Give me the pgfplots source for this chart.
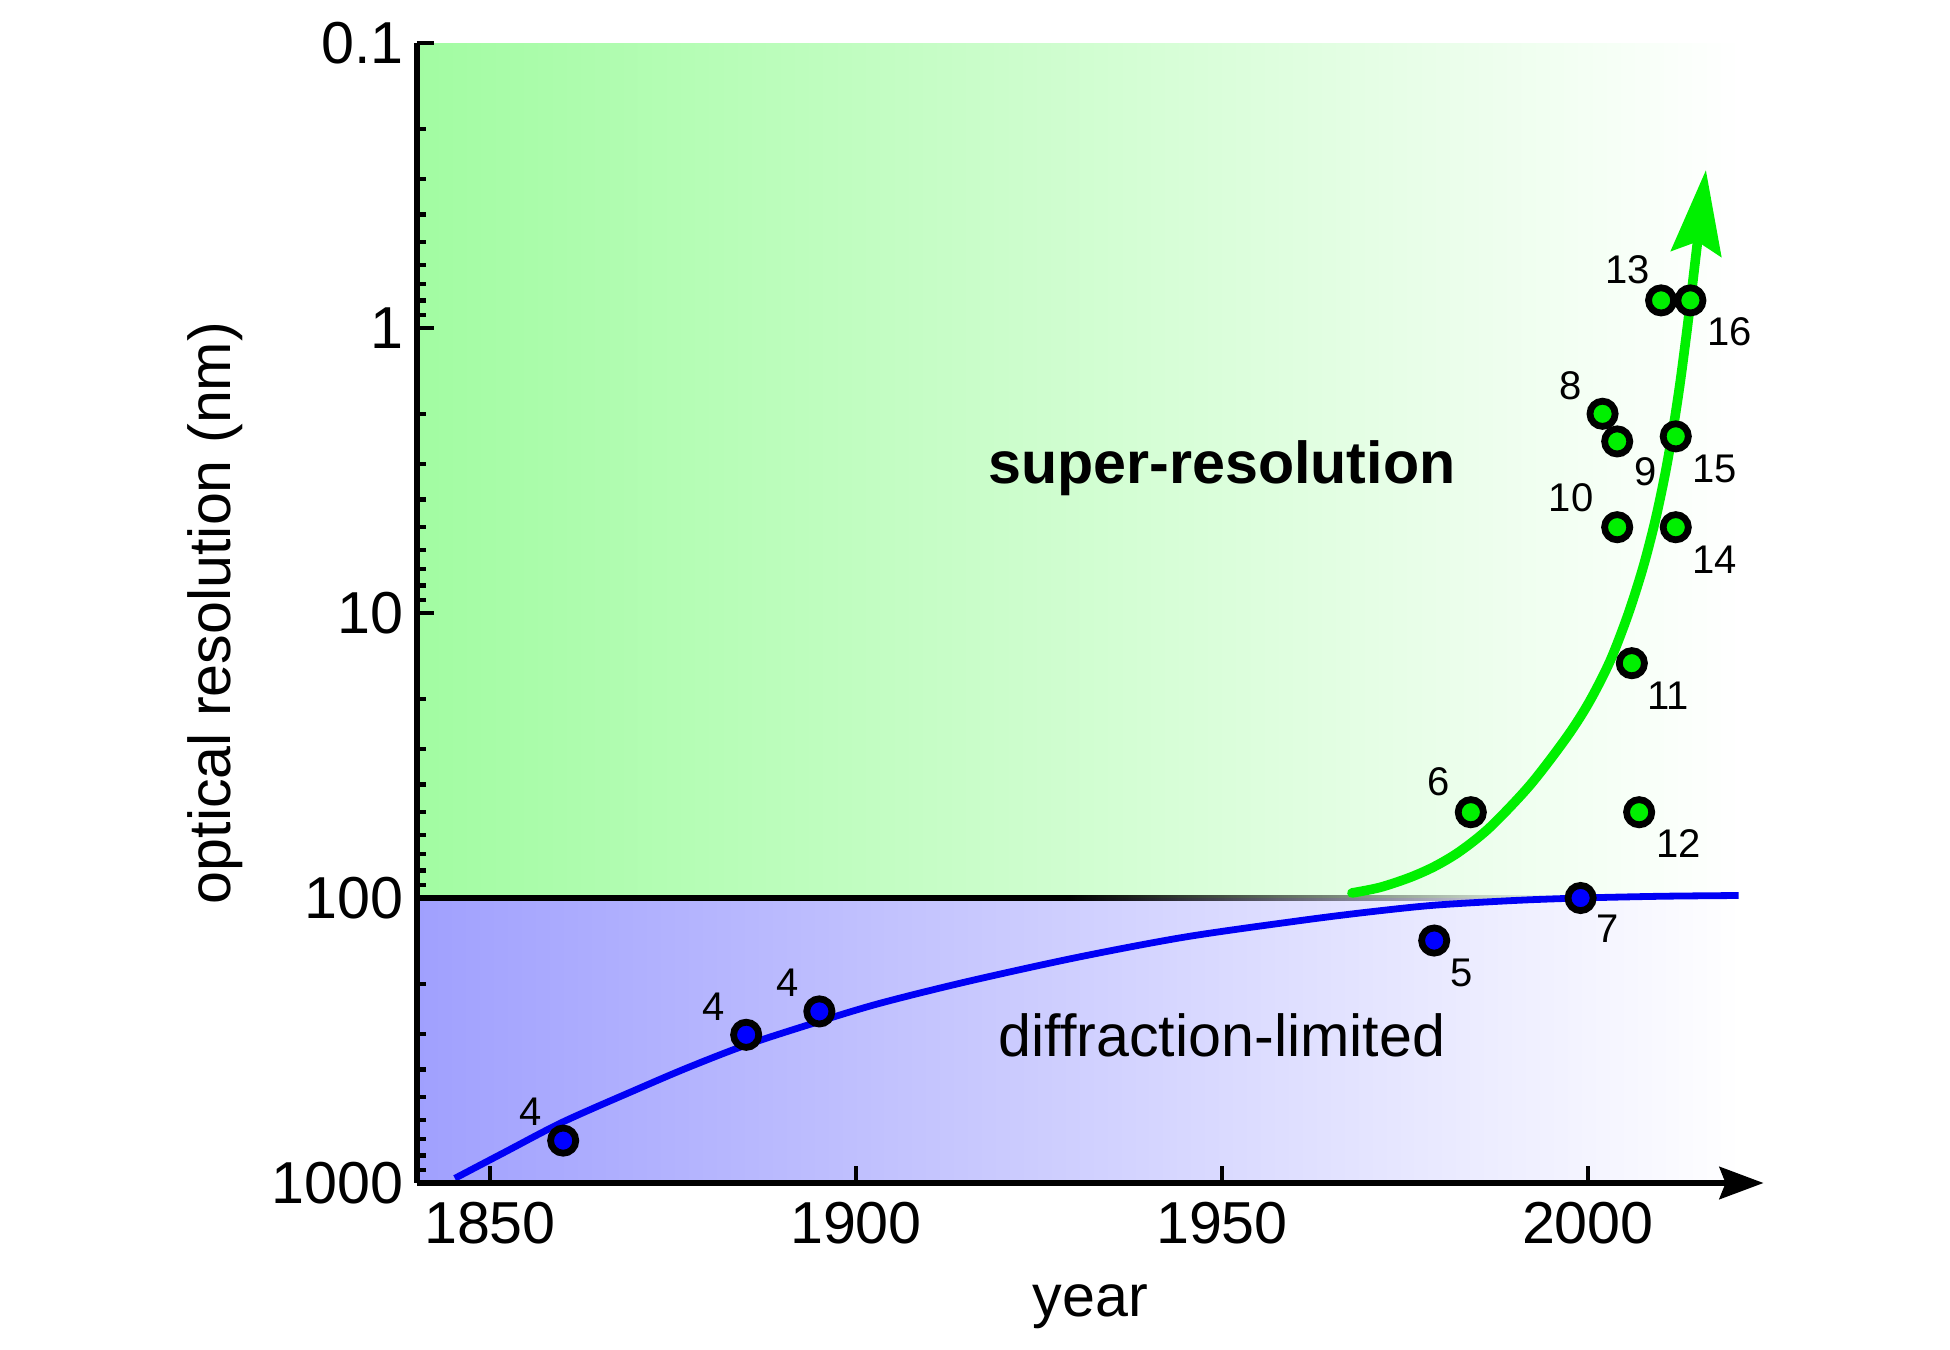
\documentclass[border=0pt]{standalone}
\usepackage{fontspec}
\setmainfont{Liberation Sans}
\usepackage{pgfplots}
\pgfplotsset{compat=1.18}
\usetikzlibrary{arrows.meta,fadings}
\definecolor{bgGreen}{RGB}{162,252,162}
\definecolor{bgBlue}{RGB}{160,160,254}
\definecolor{ptGreen}{RGB}{0,240,0}
\definecolor{lnBlue}{RGB}{0,0,245}
\tikzfading[name=fadeEast, left color=transparent!0, right color=transparent!100]
\newcommand{\bigfont}{\fontsize{14.8}{17.8}\selectfont}
\newcommand{\smallfont}{\fontsize{10}{12}\selectfont}
\begin{document}
\begin{tikzpicture}
\useasboundingbox (-104.2pt,-41.75pt) rectangle (383.3pt,295.75pt);
\begin{axis}[
  at={(0pt,0pt)}, anchor=south west,
  scale only axis, width=336.7pt, height=285pt,
  xmin=1840, xmax=2024,
  ymode=log, ymin=0.1, ymax=1000, y dir=reverse,
  axis x line=bottom, axis y line*=left,
  axis on top,
  clip=false,
  axis line style={line width=1.6pt, black},
  x axis line style={-{Stealth[length=11pt,width=8pt,inset=1.5pt]}},
  xtick={1850,1900,1950,2000},
  xticklabels={1850,1900,1950,2000},
  minor xtick={},
  ytick={0.1,1,10,100,1000},
  yticklabels={0.1\hspace{-2pt},1\hspace{-2pt},10,100,1000},
  minor ytick={0.2,0.3,0.4,0.5,0.6,0.7,0.8,0.9,2,3,4,5,6,7,8,9,20,30,40,50,60,70,80,90,200,300,400,500,600,700,800,900},
  major tick length=4.2pt, minor tick length=2.3pt,
  tick align=inside,
  major tick style={line width=1.1pt, black},
  minor tick style={line width=1.1pt, black},
  tick label style={font=\bigfont, inner sep=0pt},
  xticklabel style={anchor=base, yshift=-15.1pt},
  yticklabel style={anchor=east, xshift=-3.1pt},
  xlabel={year},
  ylabel={optical resolution (nm)},
  xlabel style={font=\bigfont, inner sep=0pt, at={([yshift=-33.4pt]axis description cs:0.5,0)}, anchor=base},
  ylabel style={font=\bigfont, inner sep=0pt, at={([xshift=-46.5pt]axis description cs:0,0.5)}, rotate=0, anchor=base},
]
% background regions
\shade[left color=bgGreen, right color=white] (axis cs:1840,0.1) rectangle (axis cs:2021,100);
\shade[left color=bgBlue, right color=white] (axis cs:1840,100) rectangle (axis cs:2021,1000);
% diffraction limit line (fading out)
\draw[line width=1.6pt, black] (axis cs:1840,100) -- (axis cs:1929,100);
\fill[black, path fading=fadeEast] ([yshift=-0.8pt]axis cs:1929,100) rectangle ([yshift=0.8pt]axis cs:1997,100);
% diffraction-limited trend
\addplot[lnBlue, line width=1.7pt, smooth] coordinates {
 (1845.2,963) (1852,780) (1860,610) (1870,470) (1877,394) (1885,328)
 (1895,271) (1903.3,234) (1915,197) (1930,162) (1945,137) (1960.7,120)
 (1970,112) (1979,106) (1990,102) (1999,100) (2010,98.6) (2020.6,98)};
% super-resolution trend
\addplot[ptGreen, line width=2.4pt, smooth, line cap=round,
  -{Stealth[length=21pt,width=12.5pt,inset=3pt]}] coordinates {
 (1967.76,96.0) (1971.58,91.8) (1975.68,84.7) (1979.10,77.4) (1982.51,68.6)
 (1986.61,56.5) (1992.08,40.2) (1997.09,27.3) (2000.14,20.6) (2003.01,14.77)
 (2005.46,10.16) (2007.51,6.95) (2009.15,4.79) (2010.52,3.28) (2011.61,2.28)
 (2012.57,1.572) (2013.52,1.024) (2014.34,0.684) (2016.12,0.279)};
% data points
\addplot[only marks, mark=*, mark size=3.15pt,
  mark options={fill=blue, draw=black, line width=1.7pt}] coordinates {
 (1860,710) (1885,302) (1895,250) (1979,141) (1999,100)};
\addplot[only marks, mark=*, mark size=3.15pt,
  mark options={fill=ptGreen, draw=black, line width=1.7pt}] coordinates {
 (1984,50) (2002,2) (2004,2.5) (2004,5) (2006,15) (2007,50)
 (2010,0.8) (2012,5) (2012,2.4) (2014,0.8)};
% reference numbers
\begin{scope}[every node/.style={font=\smallfont, inner sep=0pt}]
\node at ([xshift=-8.25pt,yshift=7.25pt]axis cs:1860,710) {4};
\node at ([xshift=-8.1pt,yshift=7.1pt]axis cs:1885,302) {4};
\node at ([xshift=-8pt,yshift=7.25pt]axis cs:1895,250) {4};
\node at ([xshift=6.8pt,yshift=-8pt]axis cs:1979,141) {5};
\node at ([xshift=6.8pt,yshift=-7.75pt]axis cs:1999,100) {7};
\node at ([xshift=-8pt,yshift=7.5pt]axis cs:1984,50) {6};
\node at ([xshift=-8pt,yshift=7.1pt]axis cs:2002,2) {8};
\node at ([xshift=7.1pt,yshift=-7.5pt]axis cs:2004,2.5) {9};
\node at ([xshift=-11.5pt,yshift=7.25pt]axis cs:2004,5) {10};
\node at ([xshift=9pt,yshift=-8.1pt]axis cs:2006,15) {11};
\node at ([xshift=9.9pt,yshift=-7.9pt]axis cs:2007,50) {12};
\node at ([xshift=-8.35pt,yshift=7.7pt]axis cs:2010,0.8) {13};
\node at ([xshift=9.8pt,yshift=-8.2pt]axis cs:2012,5) {14};
\node at ([xshift=9.8pt,yshift=-8.1pt]axis cs:2012,2.4) {15};
\node at ([xshift=9.8pt,yshift=-7.75pt]axis cs:2014,0.8) {16};
\end{scope}
\node[font=\bigfont\bfseries] at (axis cs:1950,3.1) {super-resolution};
\node[font=\bigfont] at (axis cs:1950,303) {diffraction-limited};
\end{axis}
\end{tikzpicture}
\end{document}
